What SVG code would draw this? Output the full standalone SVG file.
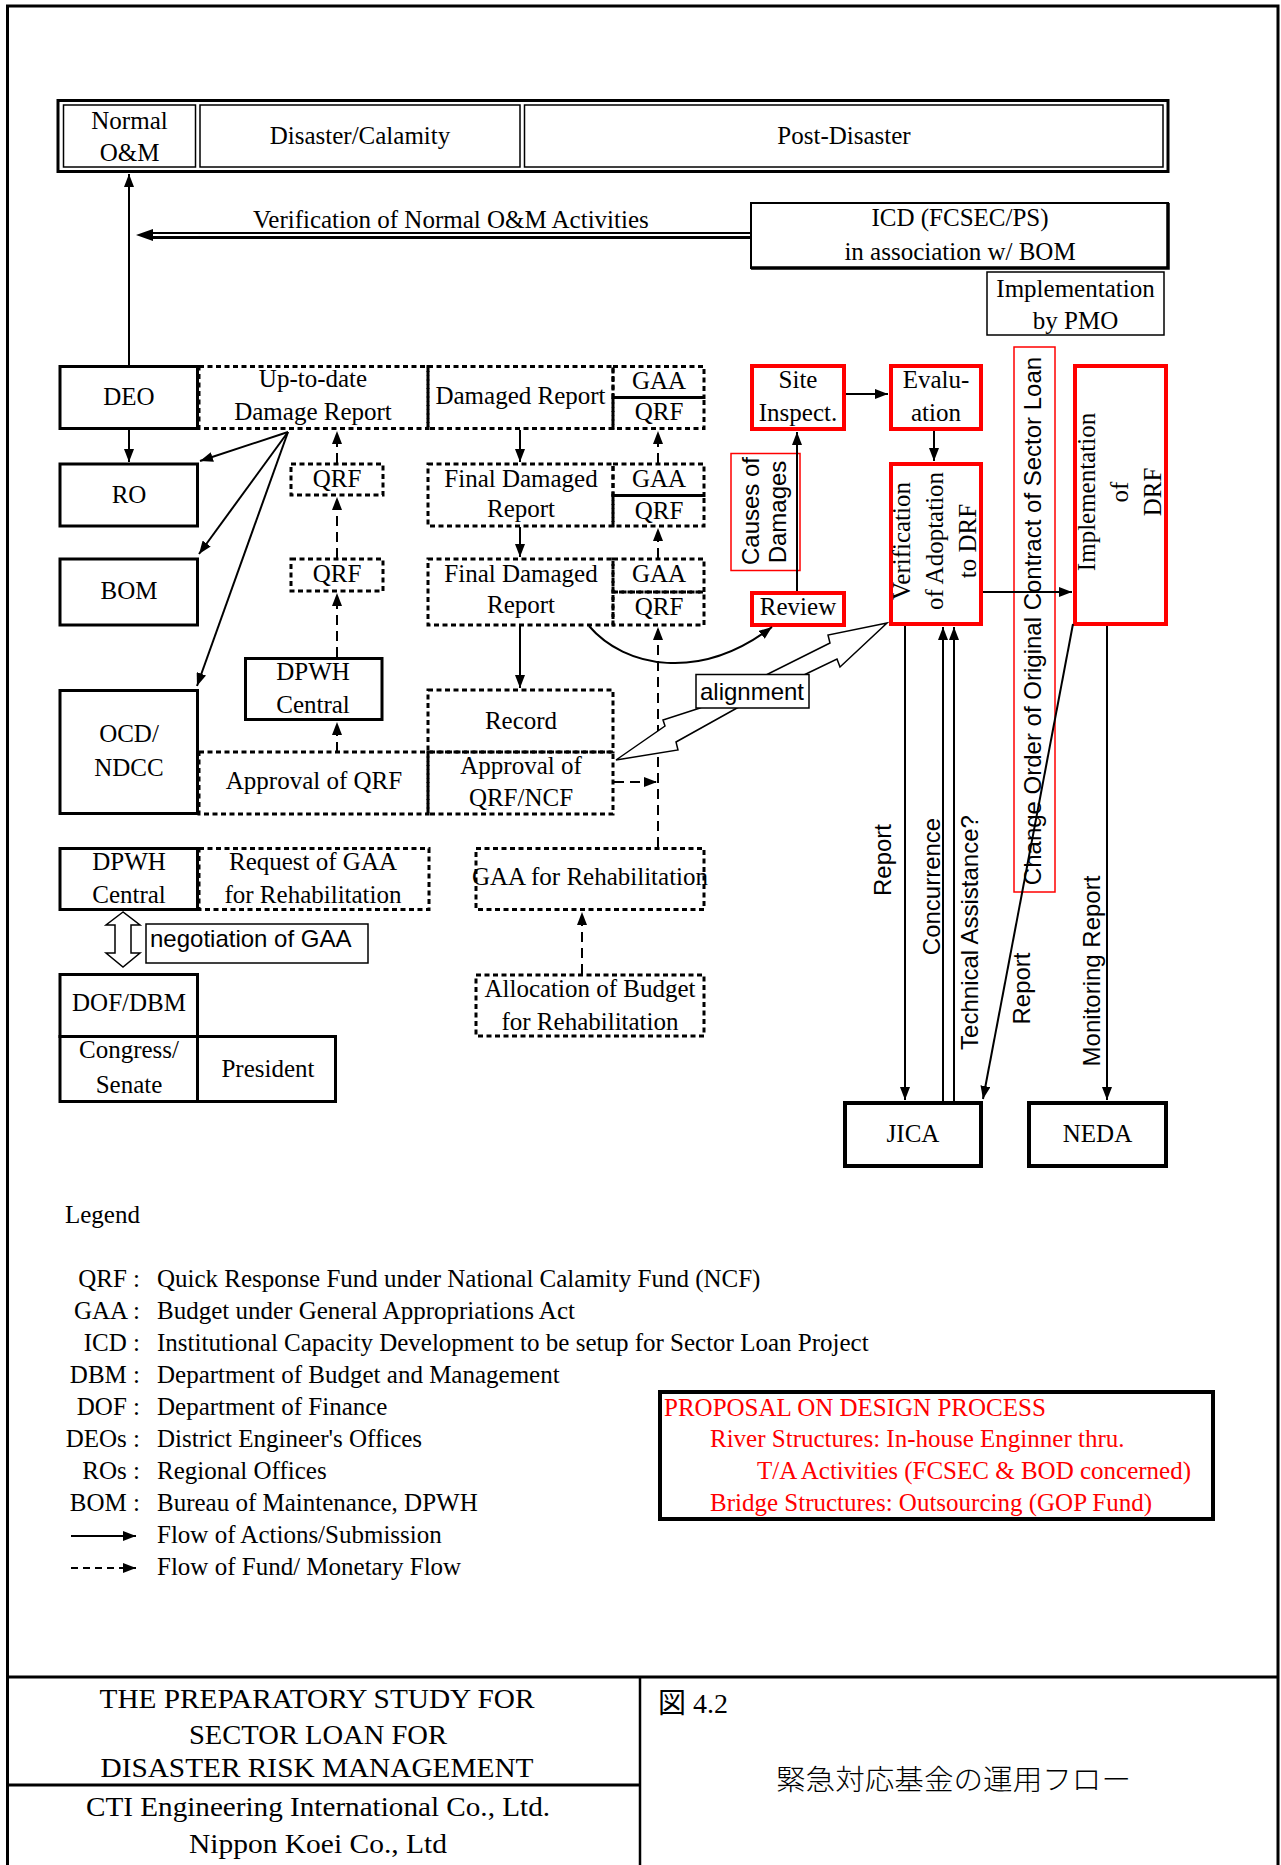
<svg xmlns="http://www.w3.org/2000/svg" width="1281" height="1865" viewBox="0 0 1281 1865">
<style>
.s{font-family:"Liberation Serif","Times New Roman",serif;font-size:25px;fill:#000}
.t{font-family:"Liberation Serif","Times New Roman",serif;font-size:27px;fill:#000;text-anchor:middle}
.m{text-anchor:middle}
.e{text-anchor:end}
.g{font-family:"Liberation Sans",Arial,sans-serif;font-size:24px;fill:#000}
.r{fill:#f00}
.box{fill:#fff;stroke:#000;stroke-width:3}
.bx4{fill:#fff;stroke:#000;stroke-width:4}
.thin{fill:#fff;stroke:#000;stroke-width:1.5}
.dbox{fill:none;stroke:#000;stroke-width:3;stroke-dasharray:5 3.5}
.rbox{fill:#fff;stroke:#f00;stroke-width:4}
.rthin{fill:#fff;stroke:#f00;stroke-width:1.5}
.ln{stroke:#000;stroke-width:2;fill:none}
.dl{stroke-dasharray:10 6}
.frame{stroke:#000;stroke-width:3;fill:none}
</style>
<defs>
<marker id="ah" markerUnits="userSpaceOnUse" markerWidth="13" markerHeight="10" refX="13" refY="5" orient="auto">
<path d="M0,0 L13,5 L0,10 z" fill="#000"/>
</marker>
</defs>
<rect x="0" y="0" width="1281" height="1865" fill="#fff"/>
<g id="frame">
<path class="frame" d="M7.5,1865 V6 H1278 V1865"/>
<line x1="7.5" y1="1677" x2="1278" y2="1677" stroke="#000" stroke-width="3"/>
<line x1="640" y1="1677" x2="640" y2="1865" stroke="#000" stroke-width="2.5"/>
<line x1="7.5" y1="1785" x2="640" y2="1785" stroke="#000" stroke-width="3"/>
</g>
<g id="header">
<rect x="58" y="100.5" width="1110" height="71" fill="#fff" stroke="#000" stroke-width="3"/>
<rect class="thin" x="63.5" y="105" width="132" height="62"/>
<rect class="thin" x="200" y="105" width="320" height="62"/>
<rect class="thin" x="524.5" y="105" width="638.5" height="62"/>
<text class="s m" x="129.5" y="128.5">Normal</text>
<text class="s m" x="129.5" y="161">O&amp;M</text>
<text class="s m" x="360" y="144">Disaster/Calamity</text>
<text class="s m" x="844" y="144">Post-Disaster</text>
</g>
<g id="icd">
<rect x="751" y="203" width="417" height="65" fill="#fff" stroke="#000" stroke-width="2"/>
<path d="M1168,203 V268 H751" fill="none" stroke="#000" stroke-width="3.5"/>
<text class="s m" x="960" y="226">ICD (FCSEC/PS)</text>
<text class="s m" x="960" y="260">in association w/ BOM</text>
</g>
<g id="pmo">
<rect class="thin" x="987" y="272" width="177" height="63"/>
<text class="s m" x="1075.5" y="297">Implementation</text>
<text class="s m" x="1075.5" y="329">by PMO</text>
</g>
<g id="deo"><rect class="box" x="60" y="366.5" width="137.5" height="62"/><text class="s m" x="129" y="405">DEO</text></g>
<g id="uptodate"><rect class="dbox" x="199" y="366.5" width="229" height="62"/><text class="s m" x="313" y="387">Up-to-date</text><text class="s m" x="313" y="420">Damage Report</text></g>
<g id="damaged"><rect class="dbox" x="428" y="366.5" width="185" height="62"/><text class="s m" x="520.5" y="404">Damaged Report</text></g>
<g id="gaaqrf1"><rect class="dbox" x="613" y="366.5" width="91" height="31"/><rect class="dbox" x="613" y="397.5" width="91" height="31"/><text class="s m" x="659" y="389">GAA</text><text class="s m" x="659" y="420">QRF</text></g>
<g id="ro"><rect class="box" x="60" y="464" width="137.5" height="62"/><text class="s m" x="129" y="503">RO</text></g>
<g id="qrf1"><rect class="dbox" x="291" y="464" width="92" height="31"/><text class="s m" x="337" y="487">QRF</text></g>
<g id="final1"><rect class="dbox" x="428" y="464" width="185" height="62"/><text class="s m" x="521" y="487">Final Damaged</text><text class="s m" x="521" y="517">Report</text></g>
<g id="gaaqrf2"><rect class="dbox" x="613" y="464" width="91" height="31.5"/><rect class="dbox" x="613" y="495.5" width="91" height="30.5"/><text class="s m" x="659" y="487">GAA</text><text class="s m" x="659" y="519">QRF</text></g>
<g id="bom"><rect class="box" x="60" y="559" width="137.5" height="66"/><text class="s m" x="129" y="599">BOM</text></g>
<g id="qrf2"><rect class="dbox" x="291" y="559" width="92" height="32"/><text class="s m" x="337" y="582">QRF</text></g>
<g id="final2"><rect class="dbox" x="428" y="559" width="185" height="66"/><text class="s m" x="521" y="582">Final Damaged</text><text class="s m" x="521" y="613">Report</text></g>
<g id="gaaqrf3"><rect class="dbox" x="613" y="559" width="91" height="33"/><rect class="dbox" x="613" y="592" width="91" height="33"/><text class="s m" x="659" y="582">GAA</text><text class="s m" x="659" y="615">QRF</text></g>
<g id="dpwh1"><rect class="box" x="245.5" y="658.5" width="136.5" height="61"/><text class="s m" x="313" y="680">DPWH</text><text class="s m" x="313" y="713">Central</text></g>
<g id="record"><rect class="dbox" x="428" y="690" width="185" height="62"/><text class="s m" x="521" y="729">Record</text></g>
<g id="ocd"><rect class="box" x="60" y="690.5" width="137.5" height="123"/><text class="s m" x="129" y="742">OCD/</text><text class="s m" x="129" y="776">NDCC</text></g>
<g id="apqrf"><rect class="dbox" x="199" y="752" width="229" height="62"/><text class="s m" x="314" y="789">Approval of QRF</text></g>
<g id="apncf"><rect class="dbox" x="428" y="752" width="185" height="62"/><text class="s m" x="521" y="774">Approval of</text><text class="s m" x="521" y="806">QRF/NCF</text></g>
<g id="dpwh2"><rect class="box" x="60" y="848.5" width="137.5" height="61"/><text class="s m" x="129" y="870">DPWH</text><text class="s m" x="129" y="903">Central</text></g>
<g id="request"><rect class="dbox" x="199" y="848.5" width="230" height="61"/><text class="s m" x="313" y="870">Request of GAA</text><text class="s m" x="313" y="903">for Rehabilitation</text></g>
<g id="gaarehab"><text class="s m" x="590" y="885">GAA for Rehabilitation</text><rect class="dbox" x="476" y="848.5" width="228" height="61"/></g>
<g id="negotiation">
<polygon points="123,912 106,925 115,925 115,953 106,953 123,967 140,953 131,953 131,925 140,925" fill="#fff" stroke="#000" stroke-width="1.5"/>
<rect class="thin" x="146" y="924" width="222" height="39"/>
<text class="g" x="150" y="947">negotiation of GAA</text>
</g>
<g id="dofdbm"><rect class="box" x="60" y="974.5" width="137.5" height="62"/><text class="s m" x="129" y="1011">DOF/DBM</text></g>
<g id="congress"><rect class="box" x="60" y="1036.5" width="137.5" height="65"/><text class="s m" x="129" y="1058">Congress/</text><text class="s m" x="129" y="1093">Senate</text></g>
<g id="president"><rect class="box" x="197.5" y="1036.5" width="138" height="65"/><text class="s m" x="268" y="1077">President</text></g>
<g id="allocation"><rect class="dbox" x="476" y="975" width="228" height="61"/><text class="s m" x="590" y="997">Allocation of Budget</text><text class="s m" x="590" y="1030">for Rehabilitation</text></g>
<g id="site"><rect class="rbox" x="752" y="366" width="92" height="63"/><text class="s m" x="798" y="388">Site</text><text class="s m" x="798" y="421">Inspect.</text></g>
<g id="eval"><rect class="rbox" x="891" y="366" width="90" height="63"/><text class="s m" x="936" y="388">Evalu-</text><text class="s m" x="936" y="421">ation</text></g>
<g id="causes"><rect class="rthin" x="731" y="453.5" width="69" height="117"/><text class="g m" transform="translate(759,511) rotate(-90)">Causes of</text><text class="g m" transform="translate(786,512) rotate(-90)">Damages</text></g>
<g id="review"><rect class="rbox" x="752" y="593" width="92" height="32"/><text class="s m" x="798" y="615">Review</text></g>
<g id="verif"><rect class="rbox" x="891" y="464" width="90" height="160"/><text class="s m" transform="translate(910,541) rotate(-90)">Verification</text><text class="s m" transform="translate(943,541) rotate(-90)">of Adoptation</text><text class="s m" transform="translate(976,541) rotate(-90)">to DRF</text></g>
<g id="change"><rect class="rthin" x="1014" y="347" width="41" height="545"/><text class="g m" transform="translate(1041,621) rotate(-90)">Change Order of Original Contract of Sector Loan</text></g>
<g id="impl"><rect class="rbox" x="1075" y="366" width="91" height="258"/><text class="s m" transform="translate(1095,492) rotate(-90)">Implementation</text><text class="s m" transform="translate(1128,492) rotate(-90)">of</text><text class="s m" transform="translate(1161,492) rotate(-90)">DRF</text></g>
<g id="jica"><rect class="bx4" x="845" y="1103" width="136" height="63"/><text class="s m" x="913" y="1142">JICA</text></g>
<g id="neda"><rect class="bx4" x="1029" y="1103" width="137" height="63"/><text class="s m" x="1097.5" y="1142">NEDA</text></g>
<g id="connectors">
<path class="ln" d="M129,365 V174" marker-end="url(#ah)"/>
<path class="ln" d="M129,430 V462" marker-end="url(#ah)"/>
<path class="ln" d="M288,432 L200,461" marker-end="url(#ah)"/>
<path class="ln" d="M288,432 L199,554" marker-end="url(#ah)"/>
<path class="ln" d="M288,432 L197,686" marker-end="url(#ah)"/>
<path class="ln dl" d="M337,657 V593" marker-end="url(#ah)"/>
<path class="ln dl" d="M337,558 V497" marker-end="url(#ah)"/>
<path class="ln dl" d="M337,463 V431" marker-end="url(#ah)"/>
<path class="ln dl" d="M337,752 V722" marker-end="url(#ah)"/>
<path class="ln" d="M520,430 V462" marker-end="url(#ah)"/>
<path class="ln" d="M520,527 V557" marker-end="url(#ah)"/>
<path class="ln" d="M520,626 V688" marker-end="url(#ah)"/>
<path class="ln dl" d="M658,463 V431" marker-end="url(#ah)"/>
<path class="ln dl" d="M658,558 V528" marker-end="url(#ah)"/>
<path class="ln dl" d="M658,847 V627" marker-end="url(#ah)"/>
<path class="ln dl" d="M614,782 H657" marker-end="url(#ah)"/>
<path class="ln dl" d="M582,974 V912" marker-end="url(#ah)"/>
<path class="ln" d="M589,626 C625,668 700,682 772,627" marker-end="url(#ah)"/>
<path class="ln" d="M846,394 H888" marker-end="url(#ah)"/>
<path class="ln" d="M934,431 V461" marker-end="url(#ah)"/>
<path class="ln" d="M797,591 V432" marker-end="url(#ah)"/>
<path class="ln" d="M983,592 H1072" marker-end="url(#ah)"/>
<path class="ln" d="M905,626 V1100" marker-end="url(#ah)"/>
<path class="ln" d="M943,1101 V627" marker-end="url(#ah)"/>
<path class="ln" d="M954,1101 V627" marker-end="url(#ah)"/>
<path class="ln" d="M1073,624 L983,1099" marker-end="url(#ah)"/>
<path class="ln" d="M1107,626 V1100" marker-end="url(#ah)"/>
<line x1="152" y1="233" x2="751" y2="233" stroke="#000" stroke-width="2"/>
<line x1="152" y1="237.5" x2="751" y2="237.5" stroke="#000" stroke-width="3"/>
<polygon points="136,235 153,229 153,241" fill="#000"/>
<polygon points="887,623 828,635 830,643 770,673 700,708 663,720 665,726 616,760 678,750 676,742 737,708 808,673 837,659 840,667" fill="#fff" stroke="#000" stroke-width="1.5"/>
</g>
<g id="labels">
<text class="s" x="253" y="228">Verification of Normal O&amp;M Activities</text>
<text class="g m" transform="translate(891,860) rotate(-90)">Report</text>
<text class="g m" transform="translate(940,886.5) rotate(-90)">Concurrence</text>
<text class="g m" transform="translate(978,932.5) rotate(-90)">Technical Assistance?</text>
<text class="g m" transform="translate(1030,988.5) rotate(-90)">Report</text>
<text class="g m" transform="translate(1100,971) rotate(-90)">Monitoring Report</text>
</g>
<g id="alignment">
<rect class="thin" x="696" y="674.5" width="113" height="33.5"/>
<text class="g m" x="752" y="699.5">alignment</text>
</g>
<g id="legend">
<text class="s" x="65" y="1223">Legend</text>
<text class="s e" x="140" y="1286.5">QRF :</text><text class="s" x="157" y="1286.5">Quick Response Fund under National Calamity Fund (NCF)</text>
<text class="s e" x="140" y="1318.5">GAA :</text><text class="s" x="157" y="1318.5">Budget under General Appropriations Act</text>
<text class="s e" x="140" y="1350.5">ICD :</text><text class="s" x="157" y="1350.5">Institutional Capacity Development to be setup for Sector Loan Project</text>
<text class="s e" x="140" y="1382.5">DBM :</text><text class="s" x="157" y="1382.5">Department of Budget and Management</text>
<text class="s e" x="140" y="1414.5">DOF :</text><text class="s" x="157" y="1414.5">Department of Finance</text>
<text class="s e" x="140" y="1446.5">DEOs :</text><text class="s" x="157" y="1446.5">District Engineer's Offices</text>
<text class="s e" x="140" y="1478.5">ROs :</text><text class="s" x="157" y="1478.5">Regional Offices</text>
<text class="s e" x="140" y="1510.5">BOM :</text><text class="s" x="157" y="1510.5">Bureau of Maintenance, DPWH</text>
<path class="ln" d="M71,1536 H136" marker-end="url(#ah)"/>
<text class="s" x="157" y="1543">Flow of Actions/Submission</text>
<path class="ln" d="M71,1568 H136" stroke-dasharray="7 5" marker-end="url(#ah)"/>
<text class="s" x="157" y="1575">Flow of Fund/ Monetary Flow</text>
</g>
<g id="proposal">
<rect x="660" y="1392" width="553" height="127" fill="#fff" stroke="#000" stroke-width="4"/>
<text class="s r" x="664" y="1415.5">PROPOSAL ON DESIGN PROCESS</text>
<text class="s r" x="710" y="1447">River Structures: In-house Enginner thru.</text>
<text class="s r" x="757" y="1479">T/A Activities (FCSEC &amp; BOD concerned)</text>
<text class="s r" x="710" y="1511">Bridge Structures: Outsourcing (GOP Fund)</text>
</g>
<g id="titleblock">
<text class="t" x="317" y="1708" textLength="435" lengthAdjust="spacingAndGlyphs">THE PREPARATORY STUDY FOR</text>
<text class="t" x="318" y="1744" textLength="258" lengthAdjust="spacingAndGlyphs">SECTOR LOAN FOR</text>
<text class="t" x="317" y="1777" textLength="433" lengthAdjust="spacingAndGlyphs">DISASTER RISK MANAGEMENT</text>
<text class="t" x="318" y="1816" textLength="464" lengthAdjust="spacingAndGlyphs">CTI Engineering International Co., Ltd.</text>
<text class="t" x="318" y="1853" textLength="258" lengthAdjust="spacingAndGlyphs">Nippon Koei Co., Ltd</text>
<text style="font-family:'Liberation Serif','Noto Sans CJK JP',serif;font-size:28px" x="658" y="1713">図 4.2</text>
<text style="font-family:'Noto Sans CJK JP',sans-serif;font-size:28px;font-weight:300" x="776" y="1790" textLength="355" lengthAdjust="spacingAndGlyphs">緊急対応基金の運用フロー</text>
</g>
</svg>
